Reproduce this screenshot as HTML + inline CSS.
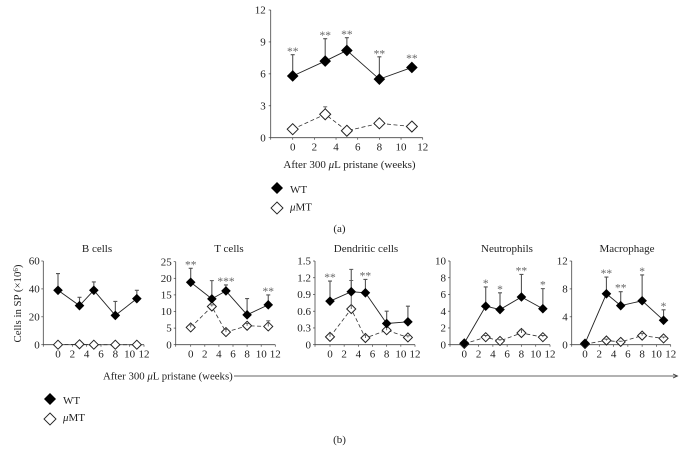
<!DOCTYPE html>
<html>
<head>
<meta charset="utf-8">
<style>
html,body{margin:0;padding:0;background:#fff;width:684px;height:461px;overflow:hidden}
svg{display:block;filter:blur(0.3px)}
text{font-family:"Liberation Serif",serif;fill:#222}
</style>
</head>
<body>
<svg id="fig" width="684" height="461" viewBox="0 0 684 461" xmlns="http://www.w3.org/2000/svg">
  <text x="349.500" y="168" font-size="11" text-anchor="middle">After 300 <tspan font-style="italic">μ</tspan>L pristane (weeks)</text>
  <polygon points="277,182 283,188 277,194 271,188" fill="#000"/>
  <text x="290" y="193" font-size="11">WT</text>
  <polygon points="277,202 283,208 277,214 271,208" fill="#fff" stroke="#222" stroke-width="0.9"/>
  <text x="290" y="210.500" font-size="11"><tspan font-style="italic">μ</tspan>MT</text>
  <text x="339.500" y="232" font-size="11" text-anchor="middle">(a)</text>

  <text transform="translate(21,303.500) rotate(-90)" font-size="10.8" text-anchor="middle">Cells in SP (×10<tspan dy="-3" font-size="7">6</tspan><tspan dy="3">)</tspan></text>
  <text x="103" y="379.500" font-size="10.8">After 300 <tspan font-style="italic">μ</tspan>L pristane (weeks)</text>
  <line x1="234" y1="376" x2="677" y2="376" stroke="#333" stroke-width="0.8"/>
  <polyline points="673,374 677.500,376 673,378" fill="none" stroke="#333" stroke-width="0.8"/>
  <polygon points="50,393 56,399 50,405 44,399" fill="#000"/>
  <text x="63" y="404" font-size="11">WT</text>
  <polygon points="50,413 56,419 50,425 44,419" fill="#fff" stroke="#222" stroke-width="0.9"/>
  <text x="63" y="421" font-size="11"><tspan font-style="italic">μ</tspan>MT</text>
  <text x="339.500" y="443" font-size="11" text-anchor="middle">(b)</text>
</svg>
<script>
const weeks = [0, 3, 5, 8, 11];
const xTickLabels = [0, 2, 4, 6, 8, 10, 12];

const overallWt = [5.8, 7.2, 8.2, 5.5, 6.6];
const overallWtTop = [7.8, 9.3, 9.4, 7.6, 6.6];
const overallKo = [0.8, 2.2, 0.65, 1.35, 1.05];
const overallKoTop = [0.8, 2.9, 0.65, 1.35, 1.05];
const overallStars = ['**', '**', '**', '**', '**'];
const overallTicks = ['0', '3', '6', '9', '12'];

const bCellWt = [39, 28, 39, 21, 33];
const bCellWtTop = [51, 34, 45, 31, 39];
const bCellKo = [0, 0.3, 0, 0, 0];
const bCellKoTop = [0, 0.3, 0, 0, 0];
const bCellStars = ['', '', '', '', ''];
const bCellTicks = ['0', '20', '40', '60'];

const tCellWt = [18.8, 13.8, 16.2, 9, 12];
const tCellWtTop = [23, 19.3, 18, 13.9, 15];
const tCellKo = [5.2, 11.5, 3.8, 5.7, 5.5];
const tCellKoTop = [6, 12, 4.6, 6.4, 7.2];
const tCellStars = ['**', '', '***', '', '**'];
const tCellTicks = ['0', '5', '10', '15', '20', '25'];

const dcWt = [0.78, 0.95, 0.93, 0.38, 0.41];
const dcWtTop = [1.14, 1.35, 1.17, 0.6, 0.69];
const dcKo = [0.14, 0.64, 0.12, 0.26, 0.13];
const dcKoTop = [0.2, 1.15, 0.17, 0.31, 0.16];
const dcStars = ['**', '', '**', '', ''];
const dcTicks = ['0', '0.3', '0.6', '0.9', '1.2', '1.5'];

const neutWt = [0.2, 4.6, 4.2, 5.7, 4.3];
const neutWtTop = [0.3, 6.9, 6.2, 8.4, 6.7];
const neutKo = [0.1, 0.9, 0.45, 1.4, 0.9];
const neutKoTop = [0.2, 1.1, 0.6, 1.8, 1.1];
const neutStars = ['', '*', '*', '**', '*'];
const neutTicks = ['0', '2', '4', '6', '8', '10'];

const macroWt = [0.2, 7.3, 5.6, 6.3, 3.5];
const macroWtTop = [0.3, 9.7, 7.6, 10, 5];
const macroKo = [0.1, 0.6, 0.4, 1.3, 0.9];
const macroKoTop = [0.2, 0.8, 0.5, 1.6, 1.1];
const macroStars = ['', '**', '**', '*', '*'];
const macroTicks = ['0', '4', '8', '12'];

const NS = 'http://www.w3.org/2000/svg';
const fig = document.getElementById('fig');

function add(parent, tag, attrs, text) {
  const el = document.createElementNS(NS, tag);
  for (const k in attrs) el.setAttribute(k, attrs[k]);
  if (text !== undefined) el.textContent = text;
  parent.appendChild(el);
  return el;
}

function drawPanel(key, title, titleX, box, wt, wtTop, ko, koTop, stars, ticks, fs, r, koBarsOnTop) {
  const g = add(fig, 'g', {});
  
  
  const yMax = parseFloat(ticks[ticks.length - 1]);
  const xScale = v => box.x0 + (v / 12) * (box.x12 - box.x0);
  const yScale = v => box.y0 - (v / yMax) * (box.y0 - box.yTop);

  if (title) {
    const t = add(g, 'text', { x: titleX, y: 252, 'font-size': 11, 'text-anchor': 'middle' }, title);
    
    
  }

  const axis = add(g, 'path', {
    d: 'M' + box.axis + ' ' + box.yTop + 'V' + box.y0 + 'H' + box.x12,
    fill: 'none', stroke: '#444', 'stroke-width': 0.8
  });
  
  

  ticks.forEach(label => {
    const v = parseFloat(label);
    const yy = yScale(v);
    add(g, 'line', { x1: box.axis - 2, x2: box.axis, y1: yy, y2: yy, stroke: '#444', 'stroke-width': 0.7 });
    const t = add(g, 'text', { x: box.axis - box.tickGap, y: yy + fs * 0.33, 'font-size': fs, 'text-anchor': 'end' }, label);
    
    
  });

  add(g, 'line', { x1: box.axis, x2: box.axis, y1: box.y0, y2: box.y0 + 2, stroke: '#444', 'stroke-width': 0.7 });
  xTickLabels.forEach(label => {
    const xx = xScale(label);
    add(g, 'line', { x1: xx, x2: xx, y1: box.y0, y2: box.y0 + 2, stroke: '#444', 'stroke-width': 0.7 });
    const t = add(g, 'text', { x: xx, y: box.y0 + 3.2 + fs * 0.88, 'font-size': fs, 'text-anchor': 'middle' }, String(label));
    
    
  });

  const koBars = () => weeks.forEach((w, i) => {
    const xx = xScale(w);
    if (koTop[i] > ko[i]) {
      add(g, 'path', {
        d: 'M' + xx + ' ' + yScale(ko[i]) + 'V' + yScale(koTop[i]) + 'm-2 0h4',
        fill: 'none', stroke: '#555', 'stroke-width': 0.9
      });
    }
  });

  weeks.forEach((w, i) => {
    const xx = xScale(w);
    if (wtTop[i] > wt[i]) {
      add(g, 'path', {
        d: 'M' + xx + ' ' + yScale(wt[i]) + 'V' + yScale(wtTop[i]) + 'm-2 0h4',
        fill: 'none', stroke: '#555', 'stroke-width': 1.1
      });
    }
  });
  if (!koBarsOnTop) koBars();

  const koLine = add(g, 'polyline', {
    points: weeks.map((w, i) => xScale(w) + ',' + yScale(ko[i])).join(' '),
    fill: 'none', stroke: '#333', 'stroke-width': 0.8, 'stroke-dasharray': '4 2.500'
  });
  
  

  const wtLine = add(g, 'polyline', {
    points: weeks.map((w, i) => xScale(w) + ',' + yScale(wt[i])).join(' '),
    fill: 'none', stroke: '#222', 'stroke-width': 0.9
  });
  
  

  weeks.forEach((w, i) => {
    const xx = xScale(w);
    const ky = yScale(ko[i]);
    const kr = r - 0.3;
    const kp = add(g, 'polygon', {
      points: [xx, ky - kr, xx + kr, ky, xx, ky + kr, xx - kr, ky].join(','),
      fill: '#fff', stroke: '#222', 'stroke-width': 1
    });
    
    
  });
  if (koBarsOnTop) koBars();

  weeks.forEach((w, i) => {
    const xx = xScale(w);
    const wy = yScale(wt[i]);
    const wp = add(g, 'polygon', {
      points: [xx, wy - r, xx + r, wy, xx, wy + r, xx - r, wy].join(','),
      fill: '#000'
    });
    
    
    if (stars[i]) {
      const hasBar = wtTop[i] > wt[i];
      const anchorY = hasBar ? yScale(wtTop[i]) : wy - r;
      const s = add(g, 'text', {
        x: xx, y: anchorY + box.starLift, 'font-size': 11.5, 'text-anchor': 'middle', style: 'fill:#666'
      }, stars[i]);
      
      
    }
  });
}

drawPanel('overall', '', 0, { axis: 270.7, x0: 292.7, x12: 422.7, y0: 137.7, yTop: 10, tickGap: 5, starLift: 0.5 },
  overallWt, overallWtTop, overallKo, overallKoTop, overallStars, overallTicks, 11, 5.8, false);
drawPanel('b-cells', 'B cells', 97, { axis: 43.3, x0: 58, x12: 144, y0: 344.7, yTop: 261, tickGap: 3.5, starLift: 0 },
  bCellWt, bCellWtTop, bCellKo, bCellKoTop, bCellStars, bCellTicks, 11, 4.8, true);
drawPanel('t-cells', 'T cells', 229, { axis: 175.7, x0: 190.7, x12: 275.3, y0: 344.7, yTop: 261.7, tickGap: 4, starLift: 0 },
  tCellWt, tCellWtTop, tCellKo, tCellKoTop, tCellStars, tCellTicks, 11, 4.8, true);
drawPanel('dendritic-cells', 'Dendritic cells', 366, { axis: 315, x0: 330, x12: 415, y0: 344.7, yTop: 261, tickGap: 4, starLift: 0 },
  dcWt, dcWtTop, dcKo, dcKoTop, dcStars, dcTicks, 11, 4.8, true);
drawPanel('neutrophils', 'Neutrophils', 507, { axis: 450, x0: 464.3, x12: 550, y0: 344.7, yTop: 261, tickGap: 4, starLift: 0 },
  neutWt, neutWtTop, neutKo, neutKoTop, neutStars, neutTicks, 11, 4.8, true);
drawPanel('macrophage', 'Macrophage', 627, { axis: 571.7, x0: 585, x12: 670.7, y0: 344.7, yTop: 261, tickGap: 4, starLift: 0 },
  macroWt, macroWtTop, macroKo, macroKoTop, macroStars, macroTicks, 11, 4.8, true);
</script>
</body>
</html>
